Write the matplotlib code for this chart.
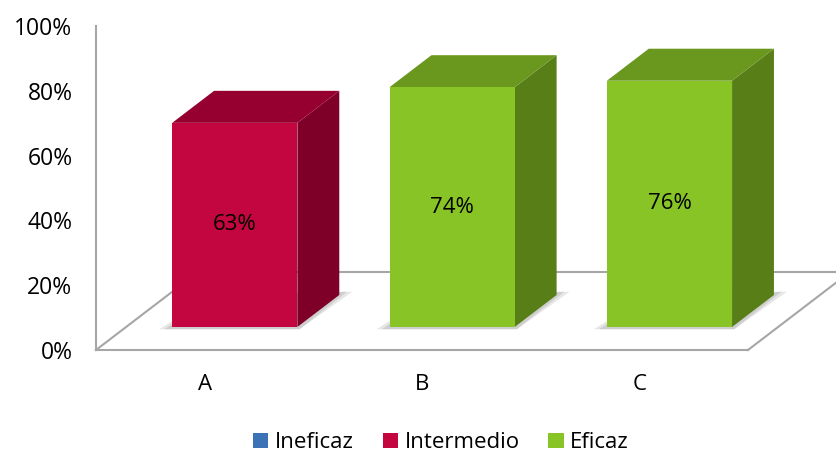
import numpy as np
import matplotlib.pyplot as plt
from matplotlib.patches import Polygon, Patch
from matplotlib.ticker import PercentFormatter

plt.rcParams['font.family'] = ['Open Sans', 'DejaVu Sans']

# datos
categorias = ['A', 'B', 'C']
valores = [63, 74, 76]
nivel = ['Intermedio', 'Eficaz', 'Eficaz']
niveles = ['Ineficaz', 'Intermedio', 'Eficaz']

# colores: frente, lateral, tapa
col_frente = {'Ineficaz': '#3c72b6', 'Intermedio': '#c3063f', 'Eficaz': '#88c426'}
col_lado = {'Ineficaz': '#26507f', 'Intermedio': '#7e0028', 'Eficaz': '#587e18'}
col_tapa = {'Ineficaz': '#2f5f98', 'Intermedio': '#960030', 'Eficaz': '#6a981e'}

# profundidad del piso (en unidades de x y de %)
DX, DY = 0.47, 24.1
d_frente, d_fondo = 0.295, 0.705
ancho = 0.576
gris = '#a6a6a6'

fig = plt.figure(figsize=(8.36, 4.54), dpi=100)
ax = fig.add_axes([96/836, 1 - 350/454, 652/836, 324/454])
ax.set_xlim(-0.5, 2.5)
ax.set_ylim(0, 100)

# piso
x0, x1 = -0.5, 2.5
ax.plot([x0, x0 + DX], [0, DY], color=gris, lw=1.5, clip_on=False, zorder=1)
ax.plot([x1, x1 + DX], [0, DY], color=gris, lw=1.5, clip_on=False, zorder=1)
ax.plot([x0 + DX, x1 + DX], [DY, DY], color=gris, lw=1.5, clip_on=False, zorder=1)

x = np.arange(len(categorias))
xc = x + d_frente * DX
base = d_frente * DY
bx = (d_fondo - d_frente) * DX
by = (d_fondo - d_frente) * DY

for i in range(len(categorias)):
    n = nivel[i]
    l, r = xc[i] - ancho / 2, xc[i] + ancho / 2
    top = base + valores[i]
    # sombra suave bajo la barra
    for ext, a in [(0.06, 0.35), (0.035, 0.5)]:
        sombra = Polygon([(l - ext, base - 0.7), (r + 0.01, base - 0.7),
                          (r + bx + ext, base + by + 1.0), (l + bx, base + by)], closed=True,
                         fc='#b8b8b8', ec='none', alpha=a, zorder=2, clip_on=False)
        ax.add_patch(sombra)
    ax.bar(xc[i], valores[i], bottom=base, width=ancho, color=col_frente[n], zorder=4, clip_on=False)
    lado = Polygon([(r, base), (r, top), (r + bx, top + by), (r + bx, base + by)], closed=True,
                   fc=col_lado[n], ec='none', zorder=3, clip_on=False)
    tapa = Polygon([(l, top), (r, top), (r + bx, top + by), (l + bx, top + by)], closed=True,
                   fc=col_tapa[n], ec='none', zorder=3, clip_on=False)
    ax.add_patch(lado)
    ax.add_patch(tapa)
    ax.text(xc[i], base + valores[i] / 2, f'{valores[i]}%', ha='center', va='center',
            fontsize=16, color='black', zorder=5)

for s in ['top', 'right']:
    ax.spines[s].set_visible(False)
ax.spines['left'].set_color(gris)
ax.spines['bottom'].set_color(gris)
ax.spines['left'].set_linewidth(1.5)
ax.spines['bottom'].set_linewidth(1.5)

ax.set_yticks(np.arange(0, 101, 20))
ax.yaxis.set_major_formatter(PercentFormatter(decimals=0))
ax.set_xticks(x)
ax.set_xticklabels(categorias)
ax.tick_params(axis='y', length=0, pad=17, labelsize=16.5)
ax.tick_params(axis='x', length=0, pad=17, labelsize=16)
ax.set_facecolor('none')

handles = [Patch(facecolor=col_frente[k], edgecolor='none', label=k) for k in niveles]
fig.legend(handles=handles, loc='center', bbox_to_anchor=(441/836, 1 - 443/454), ncol=3,
           frameon=False, fontsize=16, handlelength=0.68, handleheight=0.68,
           handletextpad=0.3, columnspacing=1.3, borderpad=0, borderaxespad=0)

fig.savefig('out.png', dpi=100)
